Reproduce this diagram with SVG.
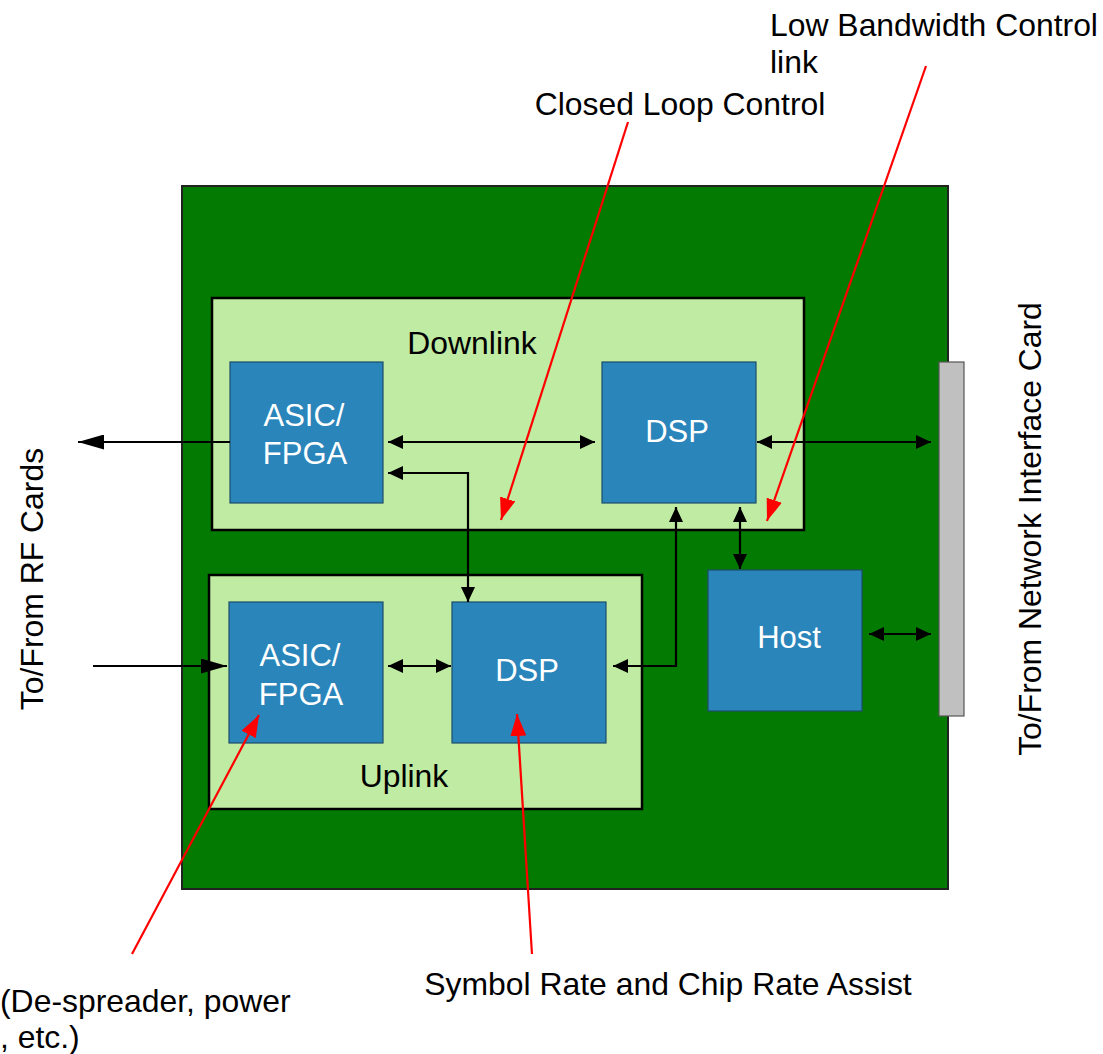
<svg xmlns="http://www.w3.org/2000/svg" width="1103" height="1054" viewBox="0 0 1103 1054">
<style>
.t{font-family:"Liberation Sans",Arial,sans-serif;font-size:31.9px;fill:#000}
.w{font-family:"Liberation Sans",Arial,sans-serif;font-size:31px;fill:#fff;text-anchor:middle}
.blk{fill:#2A85BB;stroke:#1E4D6B;stroke-width:1.2}
.grp{fill:#C0EBA3;stroke:#000;stroke-width:2.5}
.c{fill:none;stroke:#000;stroke-width:2.2}
.r{fill:none;stroke:#FF0000;stroke-width:2.2}
</style>
<defs>
<marker id="a" markerUnits="userSpaceOnUse" markerWidth="16" markerHeight="14" refX="15" refY="7" orient="auto-start-reverse"><path d="M0,0 L15,7 L0,14 z" fill="#000"/></marker>
<marker id="al" markerUnits="userSpaceOnUse" markerWidth="27" markerHeight="15" refX="26" refY="7.5" orient="auto-start-reverse"><path d="M0,0 L26,7.5 L0,15 z" fill="#000"/></marker>
<marker id="ar" markerUnits="userSpaceOnUse" markerWidth="23" markerHeight="17" refX="22" refY="8" orient="auto"><path d="M0,0 L22,8 L0,16 z" fill="#FF0000"/></marker>
</defs>
<rect width="1103" height="1054" fill="#fff"/>
<g id="board"><rect x="182" y="186" width="766" height="703" fill="#037B03" stroke="#222" stroke-width="2"/></g>
<g id="downlink"><rect class="grp" x="212" y="298" width="592" height="232"/><text class="t" x="472" y="354" text-anchor="middle">Downlink</text></g>
<g id="uplink"><rect class="grp" x="209" y="575" width="433" height="234"/><text class="t" x="404" y="787" text-anchor="middle">Uplink</text></g>
<g id="dl-asic"><rect class="blk" x="230" y="362" width="153" height="141"/><text class="w" x="304" y="426">ASIC/</text><text class="w" x="305" y="464">FPGA</text></g>
<g id="dl-dsp"><rect class="blk" x="602" y="362" width="154" height="141"/><text class="w" x="677" y="442">DSP</text></g>
<g id="ul-asic"><rect class="blk" x="229" y="602" width="154" height="141"/><text class="w" x="300" y="666">ASIC/</text><text class="w" x="301" y="705">FPGA</text></g>
<g id="ul-dsp"><rect class="blk" x="452" y="602" width="154" height="141"/><text class="w" x="527" y="681">DSP</text></g>
<g id="host"><rect class="blk" x="708" y="570" width="154" height="141"/><text class="w" x="789" y="648">Host</text></g>
<g id="nic-connector"><rect x="939" y="362" width="25" height="354" fill="#C0C0C0" stroke="#555" stroke-width="1.2"/></g>
<g id="connectors">
<path class="c" d="M230,442 H78" marker-end="url(#al)"/>
<path class="c" d="M388,442 H595" marker-start="url(#a)" marker-end="url(#a)"/>
<path class="c" d="M388,473 H468 V602" marker-start="url(#a)" marker-end="url(#a)"/>
<path class="c" d="M757,442 H931" marker-start="url(#a)" marker-end="url(#a)"/>
<path class="c" d="M613,666 H676 V507" marker-start="url(#a)" marker-end="url(#a)"/>
<path class="c" d="M740,507 V569" marker-start="url(#a)" marker-end="url(#a)"/>
<path class="c" d="M869,634 H931" marker-start="url(#a)" marker-end="url(#a)"/>
<path class="c" d="M93,666 H227" marker-end="url(#al)"/>
<path class="c" d="M388,666 H451" marker-start="url(#a)" marker-end="url(#a)"/>
<path class="r" d="M628,122 L501,520" marker-end="url(#ar)"/>
<path class="r" d="M926,66 L767,521" marker-end="url(#ar)"/>
<path class="r" d="M132,954 L259,715" marker-end="url(#ar)"/>
<path class="r" d="M532,954 L517,714" marker-end="url(#ar)"/>
</g>
<g id="labels">
<text class="t" x="770" y="36">Low Bandwidth Control</text>
<text class="t" x="770" y="73">link</text>
<text class="t" x="680" y="115" text-anchor="middle">Closed Loop Control</text>
<text class="t" x="668" y="995" text-anchor="middle">Symbol Rate and Chip Rate Assist</text>
<text class="t" x="0" y="1012">(De-spreader, power</text>
<text class="t" x="0" y="1048">, etc.)</text>
<text class="t" transform="translate(43,579) rotate(-90)" text-anchor="middle">To/From RF Cards</text>
<text class="t" transform="translate(1041,529) rotate(-90)" text-anchor="middle">To/From Network Interface Card</text>
</g>
</svg>
